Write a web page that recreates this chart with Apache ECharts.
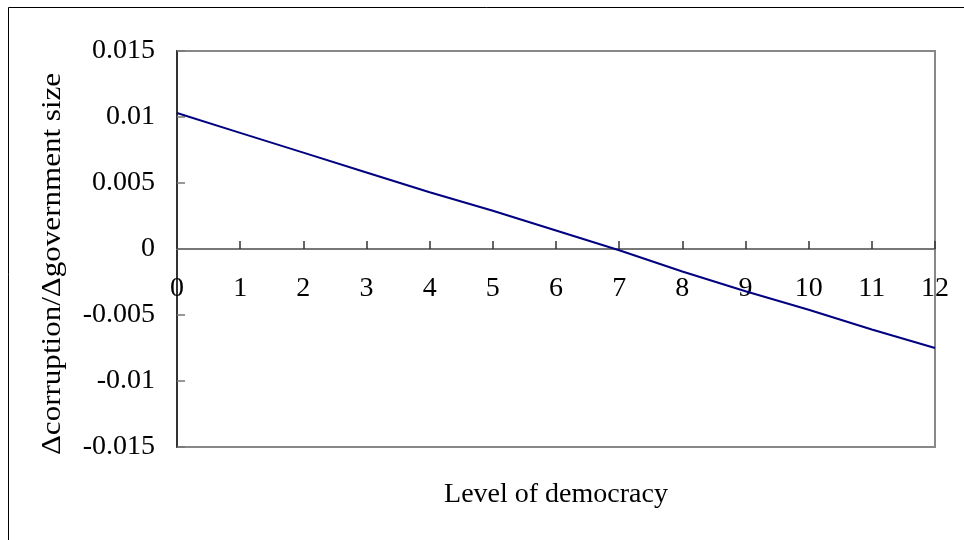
<!DOCTYPE html>
<html>
<head>
<meta charset="utf-8">
<script src="https://cdn.jsdelivr.net/npm/echarts@6/dist/echarts.min.js"></script>
<style>html,body{margin:0;padding:0;background:#fff}#c{width:964px;height:540px}</style>
</head>
<body>
<div id="c"></div>
<script>
var democracyLevels = [0,1,2,3,4,5,6,7,8,9,10,11,12];
var effectValues = [0.0103,0.0088,0.0073,0.0058,0.0043,0.0029,0.0014,-0.0001,-0.0017,-0.0032,-0.0046,-0.0061,-0.0075];
var yTickLabels = ['-0.015','-0.01','-0.005','0','0.005','0.01','0.015'];
var xTitle = 'Level of democracy';
var yTitle = '\u0394corruption/\u0394government size';

var fontFam = '"Liberation Serif", "Times New Roman", serif';
var chart = echarts.init(document.getElementById('c'));
chart.setOption({
  animation: false,
  backgroundColor: '#fff',
  graphic: [{
    type: 'rect', shape: {x: 8.5, y: 7.5, width: 1200, height: 1200},
    style: {fill: 'none', stroke: '#000', lineWidth: 1}, z: -10
  }, {
    type: 'text', x: 556, y: 495,
    style: {text: xTitle, font: '28px ' + fontFam, fill: '#000', textAlign: 'center', textVerticalAlign: 'middle'}
  }, {
    type: 'text', x: 53, y: 264, rotation: Math.PI / 2, scaleX: 1.15,
    style: {text: yTitle, font: '27px ' + fontFam, fill: '#000', textAlign: 'center', textVerticalAlign: 'middle'}
  }],
  grid: {left: 177, right: 29, top: 51, bottom: 93, show: true, borderColor: '#888', borderWidth: 2},
  xAxis: {
    type: 'value', min: 0, max: 12, interval: 1,
    axisLine: {onZero: true, lineStyle: {color: '#777', width: 2}},
    axisTick: {inside: true, length: 8, lineStyle: {color: '#333', width: 1.5}},
    axisLabel: {margin: -172, fontFamily: fontFam, fontSize: 28, color: '#000', showMaxLabel: true, showMinLabel: true},
    splitLine: {show: false}
  },
  yAxis: {
    type: 'value', min: -0.015, max: 0.015, interval: 0.005,
    axisLine: {onZero: false, lineStyle: {color: '#333', width: 2}},
    axisTick: {inside: true, length: 8, lineStyle: {color: '#777', width: 1.5}},
    axisLabel: {margin: 22, fontFamily: fontFam, fontSize: 28, color: '#000',
      formatter: function (v) { var i = Math.round((v + 0.015) / 0.005); return yTickLabels[i]; }},
    splitLine: {show: false}
  },
  series: [{
    type: 'line', symbol: 'none',
    data: democracyLevels.map(function (x, i) { return [x, effectValues[i]]; }),
    lineStyle: {color: '#000080', width: 2}
  }]
});
</script>
</body>
</html>
